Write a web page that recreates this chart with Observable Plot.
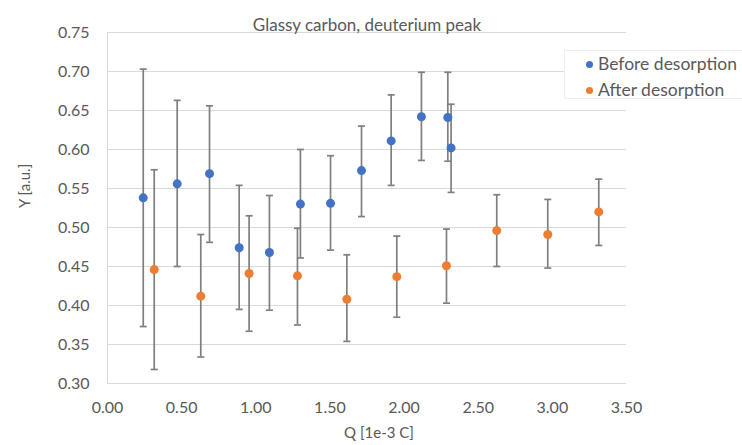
<!DOCTYPE html>
<html><head><meta charset="utf-8">
<script src="https://cdn.jsdelivr.net/npm/d3@7"></script>
<script src="https://cdn.jsdelivr.net/npm/@observablehq/plot@0.6"></script>
<style>
body{margin:0;background:#fff;}
#wrap{position:relative;width:742px;height:445px;font-family:Lato,"Open Sans",sans-serif;}
#legend{position:absolute;left:564px;top:50px;width:178px;height:49px;background:#fff;border:1px solid #eeeeee;border-right:none;box-sizing:border-box;font-size:17.5px;color:#595959;}
#legend .row{position:absolute;left:21px;white-space:nowrap;line-height:20px;}
#legend .sw{display:inline-block;width:7px;height:7px;border-radius:50%;margin-right:5px;vertical-align:middle;position:relative;top:-1px;}
</style></head>
<body><div id="wrap"></div>
<script>
const title = "Glassy carbon, deuterium peak";
const xLabel = "Q [1e-3 C]";
const yLabel = "Y [a.u.]";
const seriesNames = ["Before desorption", "After desorption"];
const seriesColors = ["#4472C4", "#ED7D31"];
const xTicks = [0, 0.5, 1, 1.5, 2, 2.5, 3, 3.5];
const yTicks = [0.30, 0.35, 0.40, 0.45, 0.50, 0.55, 0.60, 0.65, 0.70, 0.75];

const beforeQ  = [0.241, 0.470, 0.688, 0.888, 1.092, 1.301, 1.504, 1.713, 1.913, 2.117, 2.295, 2.317];
const beforeY  = [0.538, 0.556, 0.569, 0.474, 0.468, 0.530, 0.531, 0.573, 0.611, 0.642, 0.641, 0.602];
const beforeHi = [0.703, 0.663, 0.656, 0.554, 0.541, 0.600, 0.592, 0.630, 0.670, 0.699, 0.699, 0.658];
const beforeLo = [0.373, 0.450, 0.481, 0.395, 0.394, 0.461, 0.471, 0.514, 0.554, 0.586, 0.585, 0.545];

const afterQ  = [0.315, 0.629, 0.955, 1.281, 1.614, 1.951, 2.286, 2.625, 2.969, 3.313];
const afterY  = [0.446, 0.412, 0.441, 0.438, 0.408, 0.437, 0.451, 0.496, 0.491, 0.520];
const afterHi = [0.574, 0.491, 0.515, 0.499, 0.465, 0.489, 0.498, 0.542, 0.536, 0.562];
const afterLo = [0.318, 0.334, 0.367, 0.375, 0.354, 0.385, 0.403, 0.450, 0.448, 0.477];

const before = beforeQ.map((q, i) => ({q, y: beforeY[i], hi: beforeHi[i], lo: beforeLo[i], s: seriesNames[0]}));
const after = afterQ.map((q, i) => ({q, y: afterY[i], hi: afterHi[i], lo: afterLo[i], s: seriesNames[1]}));
const all = before.concat(after);

const capSymbol = {draw(ctx, size) { ctx.moveTo(-3.5, 0); ctx.lineTo(3.5, 0); }};
const grey = "#7f7f7f";
const font = "Lato, 'Open Sans', sans-serif";

const chart = Plot.plot({
  width: 742, height: 445,
  marginLeft: 107, marginRight: 116, marginTop: 32, marginBottom: 62,
  style: {fontFamily: font, fontSize: "16px", color: "#595959", background: "transparent"},
  x: {domain: [0, 3.5]},
  y: {domain: [0.30, 0.75]},
  color: {domain: seriesNames, range: seriesColors},
  marks: [
    Plot.gridY(yTicks, {stroke: "#d9d9d9", strokeOpacity: 1}),
    Plot.ruleX([0], {stroke: "#d9d9d9"}),
    Plot.ruleY([0.30], {stroke: "#d9d9d9"}),
    Plot.axisY({ticks: yTicks, tickFormat: d3.format(".2f"), tickSize: 0, tickPadding: 18, label: null, fontSize: 16}),
    Plot.axisX({ticks: xTicks, tickFormat: d3.format(".2f"), tickSize: 0, tickPadding: 18, label: null, fontSize: 16}),
    Plot.ruleX(all, {x: "q", y1: "lo", y2: "hi", stroke: grey, strokeWidth: 1.7}),
    Plot.dot(all, {x: "q", y: "hi", symbol: capSymbol, stroke: grey, strokeWidth: 1.7, r: 4}),
    Plot.dot(all, {x: "q", y: "lo", symbol: capSymbol, stroke: grey, strokeWidth: 1.7, r: 4}),
    Plot.dot(all, {x: "q", y: "y", fill: "s", r: 4.5}),
    Plot.text([title], {frameAnchor: "top", dy: -14, fontSize: 17, fill: "#595959"}),
    Plot.text([xLabel], {frameAnchor: "bottom", dx: 12, dy: 54, fontSize: 15, fill: "#595959"}),
    Plot.text([yLabel], {frameAnchor: "left", dx: -82, rotate: -90, fontSize: 15, fill: "#595959"})
  ]
});
const wrap = document.getElementById("wrap");
wrap.appendChild(chart);
const leg = document.createElement("div");
leg.id = "legend";
seriesNames.forEach((n, i) => {
  const row = document.createElement("div");
  row.className = "row";
  row.style.top = (3 + i * 26) + "px";
  row.innerHTML = `<span class="sw" style="background:${seriesColors[i]}"></span>${n}`;
  leg.appendChild(row);
});
wrap.appendChild(leg);
</script></body></html>
